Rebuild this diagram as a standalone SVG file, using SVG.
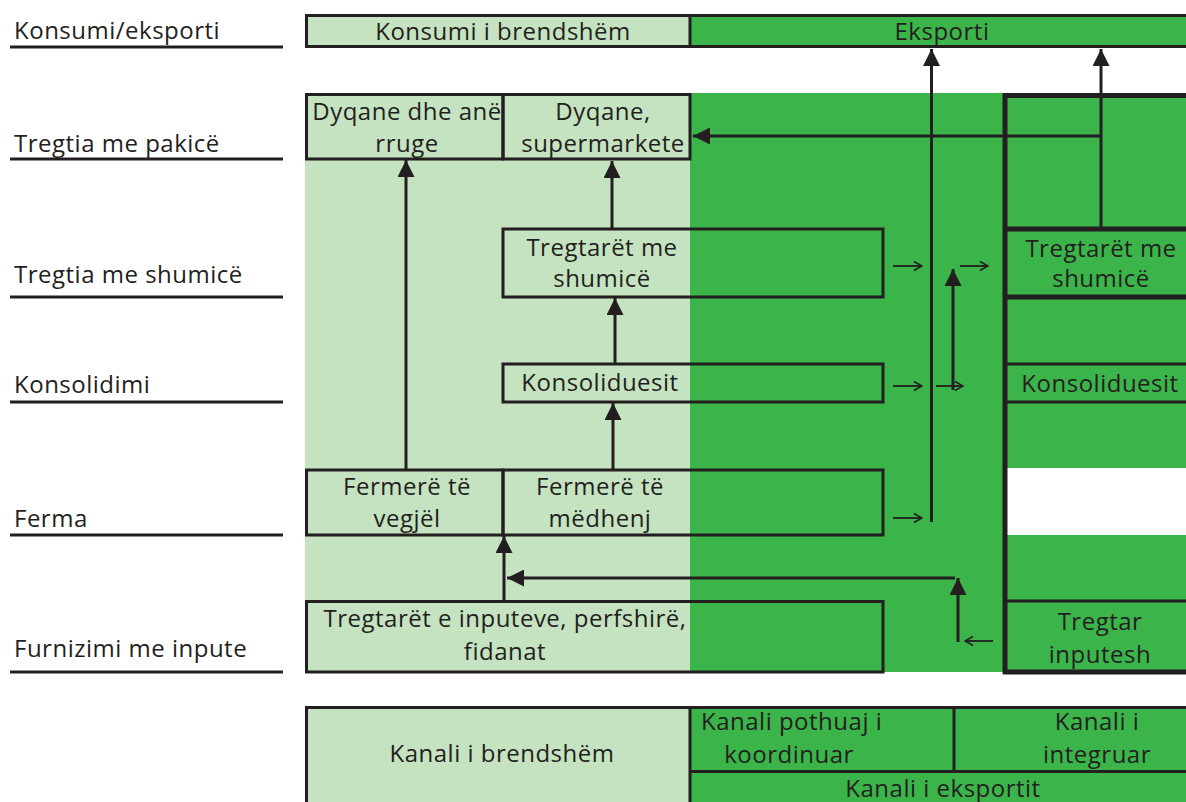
<svg xmlns="http://www.w3.org/2000/svg" width="1186" height="802" viewBox="0 0 1186 802">
<style>
.t{font-family:"Open Sans","Liberation Sans",sans-serif;font-size:24px;letter-spacing:0.5px;fill:#231f20}
.m{text-anchor:middle}
.lg{fill:#c5e3c0}
.dg{fill:#3bb44a}
.b{fill:none;stroke:#231f20;stroke-width:3}
.bk{fill:none;stroke:#231f20;stroke-width:5}
.c{fill:none;stroke:#231f20;stroke-width:3}
.th{fill:none;stroke:#231f20;stroke-width:1.8}
</style>
<defs>
<marker id="ah" viewBox="0 0 10 10" refX="10" refY="5" markerWidth="17" markerHeight="17" markerUnits="userSpaceOnUse" orient="auto">
<path d="M0,0 L10,5 L0,10 z" fill="#231f20"/>
</marker>
<marker id="oh" viewBox="0 0 10 10" refX="9" refY="5" markerWidth="10" markerHeight="12" markerUnits="userSpaceOnUse" orient="auto">
<path d="M1,0.5 L9,5 L1,9.5" fill="none" stroke="#231f20" stroke-width="1.6"/>
</marker>
</defs>
<rect width="1186" height="802" fill="#ffffff"/>

<g id="levels">
<text class="t" x="14" y="39">Konsumi/eksporti</text>
<text class="t" x="14" y="152">Tregtia me pakicë</text>
<text class="t" x="14" y="283">Tregtia me shumicë</text>
<text class="t" x="14" y="393">Konsolidimi</text>
<text class="t" x="14" y="527">Ferma</text>
<text class="t" x="14" y="657">Furnizimi me inpute</text>
<path class="b" d="M10,47H283M10,159H283M10,297H283M10,402H283M10,535H283M10,672H283"/>
</g>

<g id="background">
<rect class="lg" x="305" y="93" width="385" height="579"/>
<rect class="dg" x="690" y="93" width="315" height="579"/>
<rect class="dg" x="1005" y="93" width="181" height="375"/>
<rect class="dg" x="1005" y="535" width="181" height="137"/>
</g>

<g id="top-bar">
<rect class="lg" x="305" y="15" width="385" height="32"/>
<rect class="dg" x="690" y="15" width="496" height="32"/>
<path class="b" d="M305,15.5H1186M305,46.5H1186M306.5,15V47M690,15V47"/>
<text class="t m" x="503" y="40">Konsumi i brendshëm</text>
<text class="t m" x="942" y="40">Eksporti</text>
</g>

<g id="dyqane-rruge">
<rect class="b" x="306.5" y="94.5" width="196.5" height="64.5"/>
<text class="t m" x="407" y="120">Dyqane dhe anë</text>
<text class="t m" x="407" y="152">rruge</text>
</g>
<g id="supermarkete">
<rect class="b" x="503" y="94.5" width="187" height="64.5"/>
<text class="t m" x="603" y="120">Dyqane,</text>
<text class="t m" x="603" y="152">supermarkete</text>
</g>
<g id="tregtaret-shumice">
<rect class="b" x="503" y="229" width="380" height="68"/>
<text class="t m" x="602" y="256">Tregtarët me</text>
<text class="t m" x="602" y="287">shumicë</text>
</g>
<g id="konsoliduesit">
<rect class="b" x="503" y="364" width="380" height="38"/>
<text class="t m" x="600" y="391">Konsoliduesit</text>
</g>
<g id="fermere-vegjel">
<rect class="b" x="306.5" y="470" width="196.5" height="65"/>
<text class="t m" x="407" y="495">Fermerë të</text>
<text class="t m" x="407" y="527">vegjël</text>
</g>
<g id="fermere-medhenj">
<rect class="b" x="503" y="470" width="380" height="65"/>
<text class="t m" x="600" y="495">Fermerë të</text>
<text class="t m" x="600" y="527">mëdhenj</text>
</g>
<g id="tregtaret-inputeve">
<rect class="b" x="306.5" y="601.5" width="576.5" height="70.5"/>
<text class="t m" x="505" y="627">Tregtarët e inputeve, perfshirë,</text>
<text class="t m" x="505" y="660">fidanat</text>
</g>

<g id="integrated-channel">
<path class="bk" d="M1005,674V95.5H1186"/>
<path class="bk" d="M1005,229H1186M1005,297H1186M1003,672H1186"/>
<path class="b" d="M1005,364H1186M1005,402H1186M1005,601H1186"/>
<text class="t m" x="1101" y="257">Tregtarët me</text>
<text class="t m" x="1101" y="287">shumicë</text>
<text class="t m" x="1100" y="392">Konsoliduesit</text>
<text class="t m" x="1100" y="630">Tregtar</text>
<text class="t m" x="1100" y="663">inputesh</text>
</g>

<g id="connectors">
<path class="c" d="M406,470V160" marker-end="url(#ah)"/>
<path class="c" d="M612,229V161" marker-end="url(#ah)"/>
<path class="c" d="M615,364V298" marker-end="url(#ah)"/>
<path class="c" d="M613,470V403" marker-end="url(#ah)"/>
<path class="c" d="M504,601V536" marker-end="url(#ah)"/>
<path class="c" d="M955,578H507" marker-end="url(#ah)"/>
<path class="c" d="M958,642V578" marker-end="url(#ah)"/>
<path class="c" d="M931.5,522V49" marker-end="url(#ah)"/>
<path class="c" d="M953,390V269" marker-end="url(#ah)"/>
<path class="c" d="M1101,229V49" marker-end="url(#ah)"/>
<path class="c" d="M1101,136H693" marker-end="url(#ah)"/>
<path class="th" d="M893,266H922" marker-end="url(#oh)"/>
<path class="th" d="M960,266H988" marker-end="url(#oh)"/>
<path class="th" d="M893,386H922" marker-end="url(#oh)"/>
<path class="th" d="M936,386H963" marker-end="url(#oh)"/>
<path class="th" d="M893,518H922" marker-end="url(#oh)"/>
<path class="th" d="M993,641H965" marker-end="url(#oh)"/>
</g>

<g id="legend">
<rect class="lg" x="305" y="706" width="385" height="96"/>
<rect class="dg" x="690" y="706" width="496" height="96"/>
<path class="b" d="M305,707.5H1186M306.5,706V802M690,706V802M954,706V771M690,771.5H1186"/>
<text class="t m" x="502" y="762">Kanali i brendshëm</text>
<text class="t" x="701" y="730">Kanali pothuaj i</text>
<text class="t m" x="789" y="763">koordinuar</text>
<text class="t m" x="1097" y="730">Kanali i</text>
<text class="t m" x="1097" y="763">integruar</text>
<text class="t m" x="943" y="797">Kanali i eksportit</text>
</g>
</svg>
